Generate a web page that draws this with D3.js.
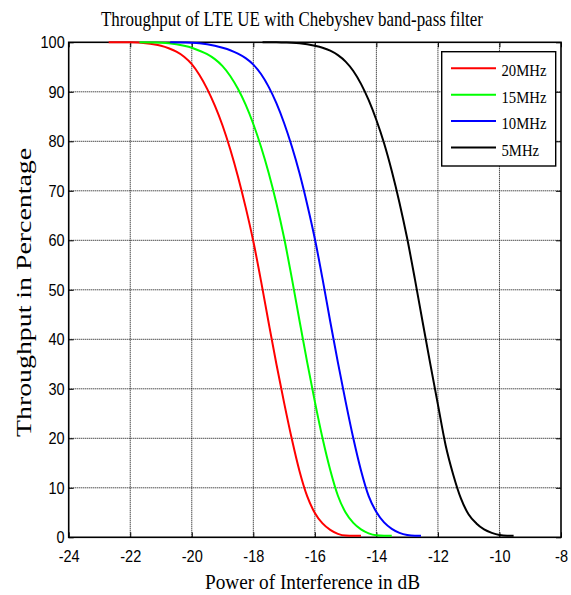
<!DOCTYPE html>
<html>
<head>
<meta charset="utf-8">
<script src="https://cdn.jsdelivr.net/npm/d3@7"></script>
<style>
  body { margin: 0; background: #fff; }
  svg { display: block; }
</style>
</head>
<body>
<svg id="chart" width="571" height="595"></svg>
<script>
// Axis ticks
const xTicks = [-24, -22, -20, -18, -16, -14, -12, -10, -8];
const yTicks = [0, 10, 20, 30, 40, 50, 60, 70, 80, 90, 100];

// Legend entries
const seriesNames = ["20MHz", "15MHz", "10MHz", "5MHz"];
const seriesColors = ["#ff0000", "#00ff00", "#0000ff", "#000000"];

// Throughput (%) against interference power (dB), one pair of arrays per bandwidth
const x20 = [-22.7, -22.25, -22.0, -21.75, -21.5, -21.25, -21.0, -20.75, -20.5, -20.25, -20.0, -19.75, -19.5, -19.25, -19.0, -18.75, -18.5, -18.25, -18.0, -17.75, -17.5, -17.25, -17.0, -16.75, -16.5, -16.25, -16.0, -15.75, -15.5, -15.25, -15.0, -14.75, -14.5];
const y20 = [100, 100, 100, 99.95, 99.8, 99.6, 99.3, 98.8, 98.1, 97.1, 95.6, 93.4, 90.6, 87.2, 83.2, 78.4, 72.9, 66.7, 59.8, 51.8, 43.3, 35.0, 27.2, 19.9, 13.4, 8.3, 4.9, 2.8, 1.5, 0.7, 0.35, 0.3, 0.3];

const x15 = [-21.7, -21.25, -21.0, -20.75, -20.5, -20.25, -20.0, -19.75, -19.5, -19.25, -19.0, -18.75, -18.5, -18.25, -18.0, -17.75, -17.5, -17.25, -17.0, -16.75, -16.5, -16.25, -16.0, -15.75, -15.5, -15.25, -15.0, -14.75, -14.5, -14.25, -14.0, -13.75, -13.5];
const y15 = [100, 99.95, 99.9, 99.8, 99.6, 99.3, 98.9, 98.3, 97.6, 96.6, 95.2, 93.2, 90.6, 87.4, 83.5, 78.9, 73.6, 67.5, 60.5, 52.4, 43.8, 35.4, 27.4, 20.0, 13.6, 8.4, 5.0, 2.9, 1.6, 0.8, 0.4, 0.3, 0.3];

const x10 = [-20.7, -20.25, -20.0, -19.75, -19.5, -19.25, -19.0, -18.75, -18.5, -18.25, -18.0, -17.75, -17.5, -17.25, -17.0, -16.75, -16.5, -16.25, -16.0, -15.75, -15.5, -15.25, -15.0, -14.75, -14.5, -14.25, -14.0, -13.75, -13.5, -13.25, -13.0, -12.75, -12.55];
const y10 = [100, 99.95, 99.9, 99.8, 99.6, 99.3, 98.9, 98.4, 97.7, 96.8, 95.5, 93.6, 91.0, 87.7, 83.7, 79.0, 73.6, 67.3, 60.3, 52.2, 43.6, 35.3, 27.4, 20.0, 13.5, 8.3, 5.1, 3.0, 1.7, 0.9, 0.45, 0.3, 0.3];

const x5 = [-17.7, -17.25, -17.0, -16.75, -16.5, -16.25, -16.0, -15.75, -15.5, -15.25, -15.0, -14.75, -14.5, -14.25, -14.0, -13.75, -13.5, -13.25, -13.0, -12.75, -12.5, -12.25, -12.0, -11.75, -11.5, -11.25, -11.0, -10.75, -10.5, -10.25, -10.0, -9.75, -9.54];
const y5 = [100, 100, 99.95, 99.9, 99.8, 99.6, 99.3, 98.9, 98.3, 97.4, 96.1, 94.2, 91.6, 88.3, 84.3, 79.6, 74.0, 67.6, 60.4, 52.2, 43.6, 35.1, 26.8, 18.6, 12.6, 7.8, 4.6, 2.8, 1.6, 0.9, 0.45, 0.3, 0.3];

const seriesX = [x20, x15, x10, x5];
const seriesY = [y20, y15, y10, y5];

const svg = d3.select("#chart");
const plot = { left: 68.7, right: 561, top: 42.3, bottom: 537.3 };

const x = d3.scaleLinear().domain([-24, -8]).range([plot.left, plot.right]);
const y = d3.scaleLinear().domain([0, 100]).range([plot.bottom, plot.top]);

const serif = "'Liberation Serif', 'Times New Roman', serif";
const sans = "'Liberation Sans', Arial, sans-serif";

// Narrow the glyphs of a text selection horizontally
function squeeze(sel, factor) {
  sel.each(function () {
    const w = this.getComputedTextLength();
    d3.select(this).attr("textLength", w * factor).attr("lengthAdjust", "spacingAndGlyphs");
  });
}

// Dotted grid
const grid = svg.append("g");
grid.selectAll("line.vx")
  .data(xTicks.slice(1, -1))
  .join("line")
  .attr("x1", d => x(d)).attr("x2", d => x(d))
  .attr("y1", plot.top).attr("y2", plot.bottom)
  .attr("stroke", "#000").attr("stroke-width", 1).attr("stroke-dasharray", "1,1");
grid.selectAll("line.hy")
  .data(yTicks.slice(1, -1))
  .join("line")
  .attr("x1", plot.left).attr("x2", plot.right)
  .attr("y1", d => y(d)).attr("y2", d => y(d))
  .attr("stroke", "#000").attr("stroke-width", 1).attr("stroke-dasharray", "1,1");

// Axes with inward ticks; plain hyphen for negative numbers
const fmt = d => String(d);
const xAxis = svg.append("g")
  .attr("transform", `translate(0,${plot.bottom})`)
  .call(d3.axisBottom(x).tickValues(xTicks).tickSize(-5).tickPadding(13).tickFormat(fmt));
const yAxis = svg.append("g")
  .attr("transform", `translate(${plot.left},0)`)
  .call(d3.axisLeft(y).tickValues(yTicks).tickSize(-5).tickPadding(4).tickFormat(fmt));
svg.append("g")
  .attr("transform", `translate(0,${plot.top})`)
  .call(d3.axisTop(x).tickValues(xTicks).tickSize(-5).tickFormat(""));
svg.append("g")
  .attr("transform", `translate(${plot.right},0)`)
  .call(d3.axisRight(y).tickValues(yTicks).tickSize(-5).tickFormat(""));

svg.selectAll(".domain").remove();
svg.selectAll(".tick line").attr("stroke", "#000").attr("stroke-width", 1);
[xAxis, yAxis].forEach(a => {
  a.selectAll("text")
    .attr("font-family", sans)
    .attr("font-size", 16.5)
    .attr("fill", "#000");
  squeeze(a.selectAll("text"), 0.88);
});

// Frame
svg.append("rect")
  .attr("x", plot.left).attr("y", plot.top)
  .attr("width", plot.right - plot.left).attr("height", plot.bottom - plot.top)
  .attr("fill", "none").attr("stroke", "#000").attr("stroke-width", 1.6);

// Curves
const line = d3.line()
  .x(d => x(d[0]))
  .y(d => y(d[1]))
  .curve(d3.curveMonotoneX);

seriesX.forEach((xs, i) => {
  const pts = xs.map((v, j) => [v, seriesY[i][j]]);
  svg.append("path")
    .datum(pts)
    .attr("d", line)
    .attr("fill", "none")
    .attr("stroke", seriesColors[i])
    .attr("stroke-width", 2)
    .attr("stroke-linejoin", "round");
});

// Legend
const legend = svg.append("g");
legend.append("rect")
  .attr("x", 441.7).attr("y", 51.7)
  .attr("width", 114).attr("height", 114.3)
  .attr("fill", "#fff").attr("stroke", "#000").attr("stroke-width", 1.4);
seriesNames.forEach((name, i) => {
  const ly = 68.3 + i * 26.4;
  legend.append("line")
    .attr("x1", 451).attr("x2", 496)
    .attr("y1", ly).attr("y2", ly)
    .attr("stroke", seriesColors[i]).attr("stroke-width", 2);
  legend.append("text")
    .attr("x", 501.5).attr("y", ly + 8)
    .attr("font-family", serif).attr("font-size", 17.5)
    .attr("fill", "#000")
    .text(name);
});
squeeze(legend.selectAll("text"), 0.84);

// Title and axis labels
svg.append("text")
  .attr("x", 292).attr("y", 25.5)
  .attr("text-anchor", "middle")
  .attr("font-family", serif).attr("font-size", 21)
  .attr("textLength", 382).attr("lengthAdjust", "spacingAndGlyphs")
  .text("Throughput of LTE UE with Chebyshev band-pass filter");

svg.append("text")
  .attr("x", 312.5).attr("y", 589)
  .attr("text-anchor", "middle")
  .attr("font-family", serif).attr("font-size", 21)
  .attr("textLength", 215).attr("lengthAdjust", "spacingAndGlyphs")
  .text("Power of Interference in dB");

svg.append("text")
  .attr("transform", "translate(31,292.5) rotate(-90)")
  .attr("text-anchor", "middle")
  .attr("font-family", serif).attr("font-size", 20)
  .attr("textLength", 289).attr("lengthAdjust", "spacingAndGlyphs")
  .text("Throughput in Percentage");
</script>
</body>
</html>
